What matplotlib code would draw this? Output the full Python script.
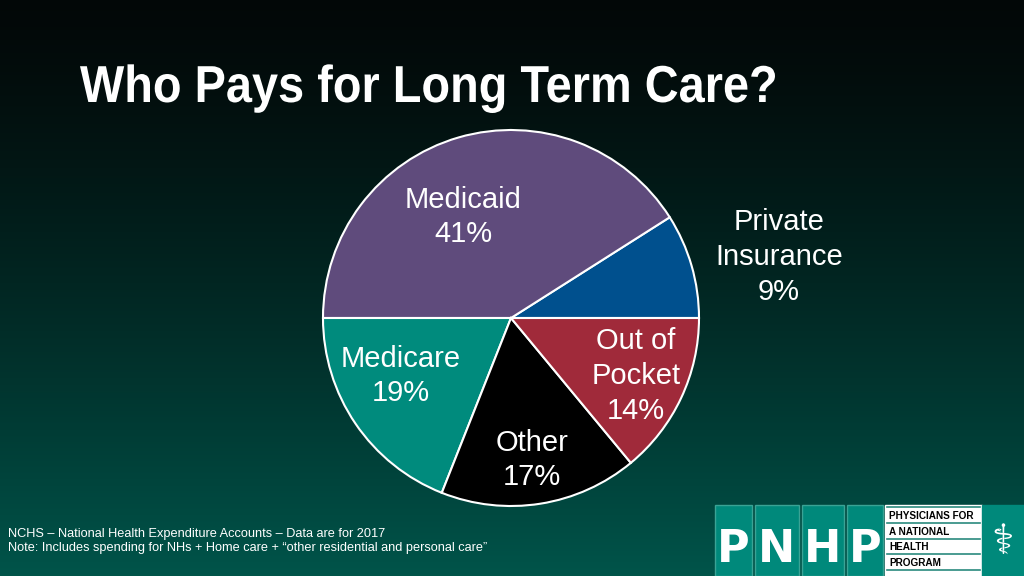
#!/usr/bin/env python3
"""Who pays for long term care - pie chart slide."""

import matplotlib.pyplot as plt
import numpy as np
from matplotlib.font_manager import FontProperties
from matplotlib.patches import PathPatch, Rectangle
from matplotlib.textpath import TextPath
from matplotlib.transforms import Affine2D

# data, counterclockwise from 3 o'clock
payers = ["Private\nInsurance", "Medicaid", "Medicare", "Other", "Out of\nPocket"]
shares = [9, 41, 19, 17, 14]
colors = ["#00508E", "#5F4B7C", "#008B7D", "#000000", "#A02A3A"]

title = "Who Pays for Long Term Care?"
notes = [
    "NCHS \u2013 National Health Expenditure Accounts \u2013 Data are for 2017",
    "Note: Includes spending for NHs + Home care + \u201cother residential and personal care\u201d",
]
logo_letters = ["P", "N", "H", "P"]
logo_lines = ["PHYSICIANS FOR", "A NATIONAL", "HEALTH", "PROGRAM"]

W, H = 1024, 576
fig = plt.figure(figsize=(W / 100, H / 100), dpi=100)

# background gradient, black at top to dark teal at bottom
bg = fig.add_axes([0, 0, 1, 1])
bg.set_xlim(0, W)
bg.set_ylim(H, 0)
bg.axis("off")
t = np.linspace(0, 1, 256)[:, None]
top = np.array([0.01, 0.03, 0.03])
bottom = np.array([0.0, 0.33, 0.29])
grad = top + (bottom - top) * (t ** 1.3)[..., None]
grad = np.repeat(grad, 2, axis=1)
bg.imshow(grad, extent=[0, W, H, 0], aspect="auto", zorder=0)

# condensed bold title: squeeze a text path horizontally
tp = TextPath((0, 0), title, size=52,
              prop=FontProperties(family="Liberation Sans", weight="bold"))
ext = tp.get_extents()
sx = 695 / ext.width
tr = Affine2D().translate(-ext.x0, 0).scale(sx, -1).translate(80, 102)
bg.add_patch(PathPatch(tr.transform_path(tp), color="white", lw=0, zorder=3))

for i, line in enumerate(notes):
    bg.text(8, 534 + i * 14, line, color="white", fontsize=9.2,
            family="Liberation Sans", va="center", ha="left")

# logo
teal = "#00897B"
box_x = [715, 755, 802, 847]
box_w = [37, 44, 42, 36]
for x0, w, ch in zip(box_x, box_w, logo_letters):
    bg.add_patch(Rectangle((x0, 505), w, 71, facecolor=teal,
                           edgecolor="#3aa395", lw=1, zorder=2))
    bg.text(x0 + w / 2, 549, ch, color="white", fontsize=32, fontweight="bold",
            family="DejaVu Sans", ha="center", va="center", zorder=3)
bg.add_patch(Rectangle((885, 505), 97, 71, color="white", zorder=2))
bg.add_patch(Rectangle((982, 505), 42, 71, color=teal, zorder=2))
row_y = [516, 532, 547, 563]
for i, line in enumerate(logo_lines):
    bg.text(889, row_y[i], line, color="black", fontsize=7.2, fontweight="bold",
            family="Liberation Sans", ha="left", va="center", zorder=3)
for yl in [507, 523, 539, 554, 570]:
    bg.plot([887, 980], [yl, yl], color="#2a8a7e", lw=1.2, zorder=3)
bg.text(1003, 542, "\u2695", color="white", fontsize=30, family="DejaVu Sans",
        ha="center", va="center", zorder=3)

# pie: center (511, 318), radius 188 px
cx, cy, r = 511, 318, 188
ax = fig.add_axes([(cx - r) / W, (H - cy - r) / H, 2 * r / W, 2 * r / H])
ax.pie(shares, colors=colors, startangle=0, counterclock=True, radius=1,
       wedgeprops=dict(edgecolor="white", linewidth=1.5))
ax.set_xlim(-1, 1)
ax.set_ylim(-1, 1)
ax.set_aspect("equal")
ax.axis("off")

# label positions in pixels
label_pos = [(779, 257), (463, 217), (401, 376), (532, 460), (636, 376)]
for name, share, (px, py) in zip(payers, shares, label_pos):
    ax.text((px - cx) / r, (cy - py) / r, f"{name}\n{share}%", color="white",
            fontsize=21, family="Liberation Sans", ha="center", va="center",
            linespacing=1.3, clip_on=False)

fig.savefig("out.png", dpi=100)
